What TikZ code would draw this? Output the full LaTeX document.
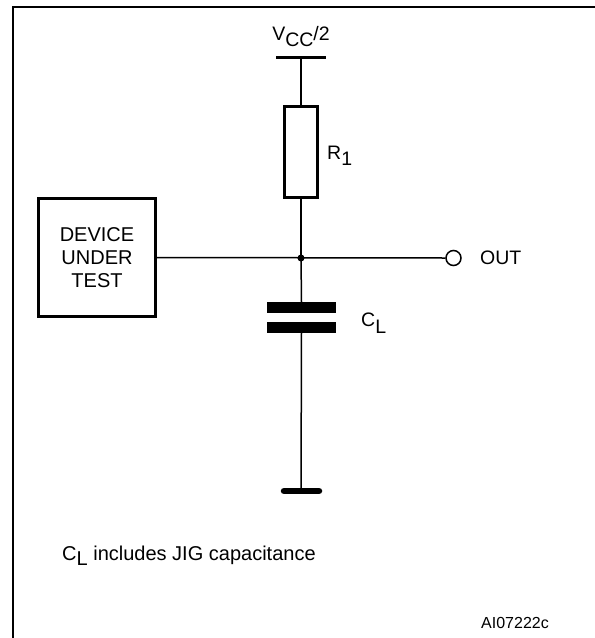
\documentclass[tikz,border=0pt]{standalone}
\usepackage{fontspec}
\setmainfont{Liberation Sans}
\begin{document}
\begin{tikzpicture}[x=1pt,y=-1pt,
  wire/.style={line width=1.5pt},
  heavy/.style={draw,line width=3pt,inner sep=0pt},
  plate/.style={fill,inner sep=0pt,minimum width=69pt,minimum height=11pt},
  lbl/.style={font=\fontsize{19.5}{22}\selectfont,inner sep=0pt},
  big/.style={font=\fontsize{20}{23}\selectfont,inner sep=0pt}]
\useasboundingbox (0,0) rectangle (595,638);
% frame
\draw[line width=2.3pt] (13,638) -- (13,7) -- (595,7);
% supply
\coordinate (vtop) at (301,57);
\draw[line width=3pt] (276,57) -- (326,57);
\node[lbl,anchor=south] (vcc) at (301,47) {V\raisebox{-6pt}{CC}/2};
% resistor
\node[heavy,minimum width=33pt,minimum height=91pt] (R) at (301,152) {};
\node[lbl,anchor=west] (rl) at (327,156) {R\raisebox{-6.5pt}{1}};
% device
\node[heavy,minimum width=117pt,minimum height=118pt] (dut) at (97,257.5) {};
\node[big,align=center] (dutt) at (97,258) {DEVICE\\UNDER\\TEST};
% junction and out
\node[circle,fill,inner sep=0pt,minimum size=7pt] (J) at (301,258) {};
\node[circle,draw,line width=1.5pt,inner sep=0pt,minimum size=15pt] (O) at (453.5,258) {};
\node[lbl,anchor=west] (outl) at (480,258) {OUT};
% capacitor
\node[plate] (cp1) at (301.5,307.5) {};
\node[plate] (cp2) at (301.5,327) {};
\node[lbl,anchor=west] (cl) at (361,323) {C\raisebox{-6.5pt}{L}};
% ground
\coordinate (gnd) at (301,491);
\draw[line width=6.5pt,line cap=round] (284,491) -- (319,491);
% wires
\draw[wire] (vtop) -- (R.north);
\draw[wire] (R.south) -- (J.center);
\draw[wire] (dut.east) -- (O.west);
\draw[wire] (J.center) -- (cp1.north);
\draw[wire] (cp2.south) -- (gnd);
% notes
\node[big,anchor=west] (note) at (62,556) {C\raisebox{-5pt}{L} includes JIG capacitance};
\node[font=\fontsize{16}{19}\selectfont,inner sep=0pt,anchor=east] (code) at (549,623) {AI07222c};
\end{tikzpicture}
\end{document}
